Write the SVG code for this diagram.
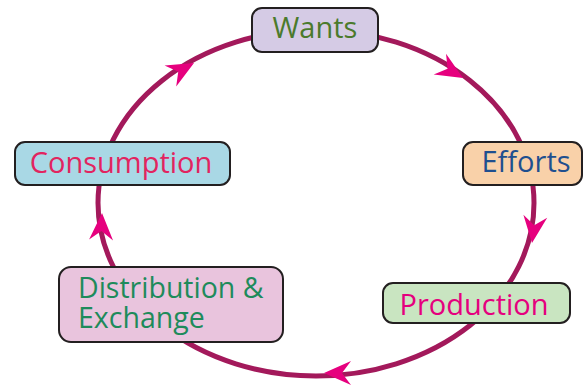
<svg xmlns="http://www.w3.org/2000/svg" width="584" height="385" viewBox="0 0 584 385">
<defs>
<style>
.box{stroke:#231f20;stroke-width:2}
.lbl{font-family:"Open Sans","Noto Sans","Liberation Sans",sans-serif;font-size:29px;text-anchor:middle}
.lbl2{font-family:"Open Sans","Noto Sans","Liberation Sans",sans-serif;font-size:28.5px;text-anchor:start}
.loop{fill:none;stroke:#a3195b;stroke-width:5}
.arw{fill:#e6007e}
</style>
<path id="ah" d="M0,0 L-27,-12 L-18,0 L-27,12 Z"/>
</defs>
<rect width="584" height="385" fill="#ffffff"/>
<g id="connectors">
<ellipse class="loop" cx="316" cy="203" rx="218" ry="173"/>
<use href="#ah" class="arw" transform="translate(194,63) rotate(-29)"/>
<use href="#ah" class="arw" transform="translate(463,78) rotate(31)"/>
<use href="#ah" class="arw" transform="translate(532,243) rotate(97)"/>
<use href="#ah" class="arw" transform="translate(324,373) rotate(180)"/>
<use href="#ah" class="arw" transform="translate(102,213) rotate(-88)"/>
</g>
<g id="wants">
<rect class="box" x="252" y="8" width="126" height="44" rx="10" fill="#d5cbe5"/>
<text class="lbl" x="315" y="38" fill="#4b7a2c">Wants</text>
</g>
<g id="efforts">
<rect class="box" x="463" y="142" width="119" height="43" rx="10" fill="#f9d1a9"/>
<text class="lbl" x="526" y="172" fill="#1f4f8f">Efforts</text>
</g>
<g id="consumption">
<rect class="box" x="15" y="142" width="215" height="43" rx="10" fill="#a9d8e5"/>
<text class="lbl" x="121" y="173" fill="#e2245f">Consumption</text>
</g>
<g id="distribution">
<rect class="box" x="59" y="267" width="224" height="75" rx="12" fill="#e9c4dd"/>
<text class="lbl2" fill="#1e8b5b"><tspan x="78" y="298">Distribution &amp;</tspan><tspan x="78" y="328">Exchange</tspan></text>
</g>
<g id="production">
<rect class="box" x="383" y="283" width="187" height="40" rx="10" fill="#c9e5c1"/>
<text class="lbl" x="474" y="315" fill="#e5007e">Production</text>
</g>
</svg>
